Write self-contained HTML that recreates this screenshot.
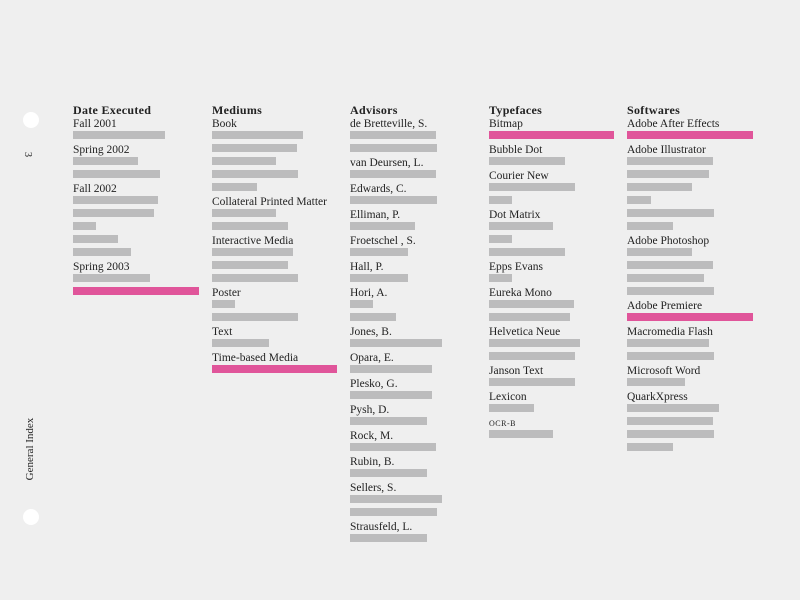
<!DOCTYPE html>
<html><head><meta charset="utf-8"><style>
html,body{margin:0;padding:0}
body{width:800px;height:600px;background:#efefef;position:relative;overflow:hidden;font-family:"Liberation Serif",serif;color:#222;font-size:11.5px}
.col{position:absolute;top:104px}
.r{height:13px;line-height:13px;white-space:nowrap;box-sizing:border-box;overflow:visible;padding-top:1px}
.r:has(.b){padding-top:1px;overflow:hidden}
.h{font-weight:bold;font-size:12px;letter-spacing:0.3px;padding-top:0}
.b{height:8px;background:#bcbcbd}
.p{background:#e0559a}
.hole{position:absolute;width:16px;height:16px;border-radius:50%;background:#fff;left:23px}
.rot{position:absolute;white-space:nowrap;font-size:11px}
</style></head><body>
<div class="hole" style="top:112px"></div>
<div class="hole" style="top:509px"></div>
<div class="rot" style="left:25px;top:149px;transform:rotate(90deg);font-size:10px">3</div>
<div class="rot" style="left:-4px;top:443px;transform:rotate(-90deg);width:68px;text-align:center">General Index</div>

<div class="col" style="left:73px">
<div class="r h">Date Executed</div>
<div class="r">Fall 2001</div>
<div class="r"><div class="b" style="width:92px"></div></div>
<div class="r">Spring 2002</div>
<div class="r"><div class="b" style="width:65px"></div></div>
<div class="r"><div class="b" style="width:87px"></div></div>
<div class="r">Fall 2002</div>
<div class="r"><div class="b" style="width:85px"></div></div>
<div class="r"><div class="b" style="width:81px"></div></div>
<div class="r"><div class="b" style="width:23px"></div></div>
<div class="r"><div class="b" style="width:45px"></div></div>
<div class="r"><div class="b" style="width:58px"></div></div>
<div class="r">Spring 2003</div>
<div class="r"><div class="b" style="width:77px"></div></div>
<div class="r"><div class="b p" style="width:126px"></div></div>
</div>

<div class="col" style="left:212px">
<div class="r h">Mediums</div>
<div class="r">Book</div>
<div class="r"><div class="b" style="width:91px"></div></div>
<div class="r"><div class="b" style="width:85px"></div></div>
<div class="r"><div class="b" style="width:64px"></div></div>
<div class="r"><div class="b" style="width:86px"></div></div>
<div class="r"><div class="b" style="width:45px"></div></div>
<div class="r">Collateral Printed Matter</div>
<div class="r"><div class="b" style="width:64px"></div></div>
<div class="r"><div class="b" style="width:76px"></div></div>
<div class="r">Interactive Media</div>
<div class="r"><div class="b" style="width:81px"></div></div>
<div class="r"><div class="b" style="width:76px"></div></div>
<div class="r"><div class="b" style="width:86px"></div></div>
<div class="r">Poster</div>
<div class="r"><div class="b" style="width:23px"></div></div>
<div class="r"><div class="b" style="width:86px"></div></div>
<div class="r">Text</div>
<div class="r"><div class="b" style="width:57px"></div></div>
<div class="r">Time-based Media</div>
<div class="r"><div class="b p" style="width:125px"></div></div>
</div>

<div class="col" style="left:350px">
<div class="r h">Advisors</div>
<div class="r">de Bretteville, S.</div>
<div class="r"><div class="b" style="width:86px"></div></div>
<div class="r"><div class="b" style="width:87px"></div></div>
<div class="r">van Deursen, L.</div>
<div class="r"><div class="b" style="width:86px"></div></div>
<div class="r">Edwards, C.</div>
<div class="r"><div class="b" style="width:87px"></div></div>
<div class="r">Elliman, P.</div>
<div class="r"><div class="b" style="width:65px"></div></div>
<div class="r">Froetschel , S.</div>
<div class="r"><div class="b" style="width:58px"></div></div>
<div class="r">Hall, P.</div>
<div class="r"><div class="b" style="width:58px"></div></div>
<div class="r">Hori, A.</div>
<div class="r"><div class="b" style="width:23px"></div></div>
<div class="r"><div class="b" style="width:46px"></div></div>
<div class="r">Jones, B.</div>
<div class="r"><div class="b" style="width:92px"></div></div>
<div class="r">Opara, E.</div>
<div class="r"><div class="b" style="width:82px"></div></div>
<div class="r">Plesko, G.</div>
<div class="r"><div class="b" style="width:82px"></div></div>
<div class="r">Pysh, D.</div>
<div class="r"><div class="b" style="width:77px"></div></div>
<div class="r">Rock, M.</div>
<div class="r"><div class="b" style="width:86px"></div></div>
<div class="r">Rubin, B.</div>
<div class="r"><div class="b" style="width:77px"></div></div>
<div class="r">Sellers, S.</div>
<div class="r"><div class="b" style="width:92px"></div></div>
<div class="r"><div class="b" style="width:87px"></div></div>
<div class="r">Strausfeld, L.</div>
<div class="r"><div class="b" style="width:77px"></div></div>
</div>

<div class="col" style="left:489px">
<div class="r h">Typefaces</div>
<div class="r">Bitmap</div>
<div class="r"><div class="b p" style="width:125px"></div></div>
<div class="r">Bubble Dot</div>
<div class="r"><div class="b" style="width:76px"></div></div>
<div class="r">Courier New</div>
<div class="r"><div class="b" style="width:86px"></div></div>
<div class="r"><div class="b" style="width:23px"></div></div>
<div class="r">Dot Matrix</div>
<div class="r"><div class="b" style="width:64px"></div></div>
<div class="r"><div class="b" style="width:23px"></div></div>
<div class="r"><div class="b" style="width:76px"></div></div>
<div class="r">Epps Evans</div>
<div class="r"><div class="b" style="width:23px"></div></div>
<div class="r">Eureka Mono</div>
<div class="r"><div class="b" style="width:85px"></div></div>
<div class="r"><div class="b" style="width:81px"></div></div>
<div class="r">Helvetica Neue</div>
<div class="r"><div class="b" style="width:91px"></div></div>
<div class="r"><div class="b" style="width:86px"></div></div>
<div class="r">Janson Text</div>
<div class="r"><div class="b" style="width:86px"></div></div>
<div class="r">Lexicon</div>
<div class="r"><div class="b" style="width:45px"></div></div>
<div class="r" style="font-size:8px;letter-spacing:0.5px">OCR-B</div>
<div class="r"><div class="b" style="width:64px"></div></div>
</div>

<div class="col" style="left:627px">
<div class="r h">Softwares</div>
<div class="r">Adobe After Effects</div>
<div class="r"><div class="b p" style="width:126px"></div></div>
<div class="r">Adobe Illustrator</div>
<div class="r"><div class="b" style="width:86px"></div></div>
<div class="r"><div class="b" style="width:82px"></div></div>
<div class="r"><div class="b" style="width:65px"></div></div>
<div class="r"><div class="b" style="width:24px"></div></div>
<div class="r"><div class="b" style="width:87px"></div></div>
<div class="r"><div class="b" style="width:46px"></div></div>
<div class="r">Adobe Photoshop</div>
<div class="r"><div class="b" style="width:65px"></div></div>
<div class="r"><div class="b" style="width:86px"></div></div>
<div class="r"><div class="b" style="width:77px"></div></div>
<div class="r"><div class="b" style="width:87px"></div></div>
<div class="r">Adobe Premiere</div>
<div class="r"><div class="b p" style="width:126px"></div></div>
<div class="r">Macromedia Flash</div>
<div class="r"><div class="b" style="width:82px"></div></div>
<div class="r"><div class="b" style="width:87px"></div></div>
<div class="r">Microsoft Word</div>
<div class="r"><div class="b" style="width:58px"></div></div>
<div class="r">QuarkXpress</div>
<div class="r"><div class="b" style="width:92px"></div></div>
<div class="r"><div class="b" style="width:86px"></div></div>
<div class="r"><div class="b" style="width:87px"></div></div>
<div class="r"><div class="b" style="width:46px"></div></div>
</div>
</body></html>
